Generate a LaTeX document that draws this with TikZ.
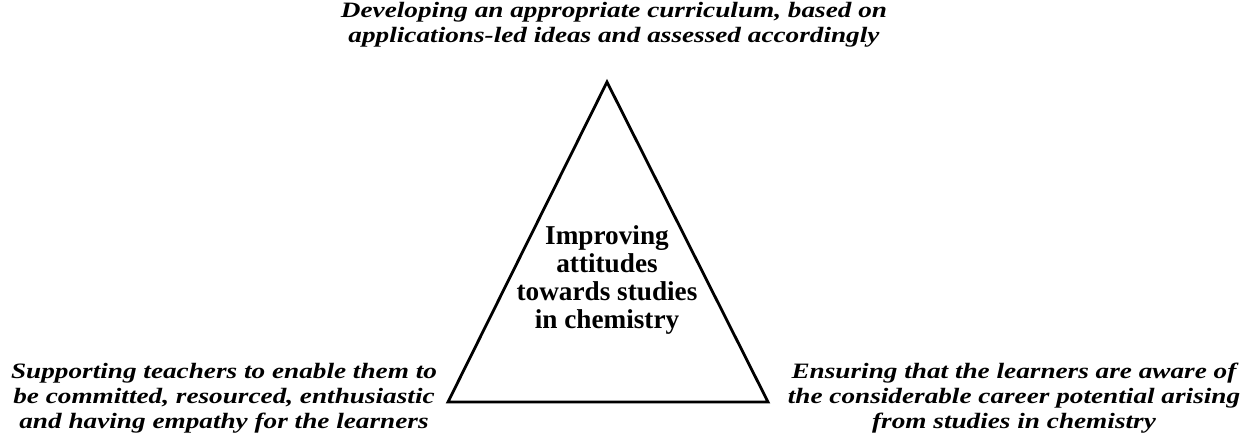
\documentclass[tikz,border=0pt]{standalone}
\usepackage{fontspec}
\setmainfont{Liberation Serif}
\newfontfamily\widefont{Liberation Serif}[FakeStretch=1.24]
\usepackage{tikz}
\usetikzlibrary{positioning,calc}
\tikzstyle{corner} = [inner sep=0pt, align=center, font=\widefont\fontsize{12.5}{14.2}\selectfont\bfseries\itshape]
\tikzstyle{middle} = [inner sep=0pt, align=center, font=\fontsize{15.5}{16}\selectfont\bfseries]
\tikzstyle{edge} = [draw, line width=1.6pt, line join=miter]

\begin{document}
\begin{tikzpicture}[x=0.02cm, y=-0.02cm]
    \useasboundingbox (0,0) rectangle (1247,446);
    \coordinate (top) at (607,82);
    \coordinate (left) at (448,402);
    \coordinate (right) at (768,402);

    \path [edge] (top) -- (right) -- (left) -- cycle;

    \node [middle] (aim) at (607,280) {Improving\\attitudes\\towards studies\\in chemistry};
    \node [corner] (curr) at (614,25) {Developing an appropriate curriculum, based on\\applications-led ideas and assessed accordingly};
    \node [corner] (teach) at (224,398) {Supporting teachers to enable them to\\be committed, resourced, enthusiastic\\and having empathy for the learners};
    \node [corner] (career) at (1014,398) {Ensuring that the learners are aware of\\the considerable career potential arising\\from studies in chemistry};
\end{tikzpicture}
\end{document}
